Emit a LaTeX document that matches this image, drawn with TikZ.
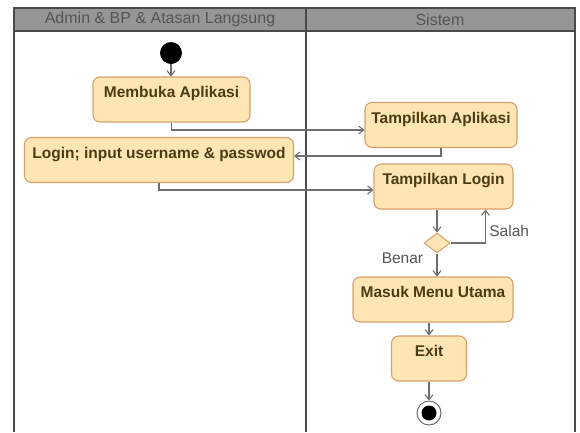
\documentclass[tikz,border=0pt]{standalone}
\usepackage{fontspec}
\setmainfont{Liberation Sans}
\usetikzlibrary{arrows.meta,shapes.geometric}
\definecolor{actfill}{HTML}{FEE6B4}
\definecolor{actline}{HTML}{D6A06C}
\definecolor{acttext}{HTML}{4A3C14}
\definecolor{flowgray}{HTML}{6E6E6E}
\definecolor{headfill}{HTML}{969696}
\definecolor{headtext}{HTML}{555555}
\definecolor{lanegray}{HTML}{4A4A4A}
\begin{document}
\begin{tikzpicture}[x=1pt,y=-1pt,
    activity/.style={draw=actline,fill=actfill,line width=1.1pt,rounded corners=7pt,
      font=\fontsize{15.5}{18}\selectfont\bfseries,text=acttext,
      inner xsep=4pt,inner ysep=9pt,text height=11.5pt,text depth=15.5pt},
    decision/.style={diamond,draw=actline,fill=actfill,line width=1pt,
      minimum width=26pt,minimum height=20pt,inner sep=0pt},
    flow/.style={draw=flowgray,line width=1.1pt,-{Straight Barb[length=5pt,width=8pt]}},
    guard/.style={font=\fontsize{15.5}{18}\selectfont,text=headtext},
    lanehead/.style={font=\fontsize{16}{19}\selectfont,text=headtext},
    lane/.style={draw=lanegray,line width=1.6pt}]
    \useasboundingbox (0,0) rectangle (580,432);
    \fill[headfill] (14,8) rectangle (575,31);
    \draw[lane] (14,432) -- (14,8) -- (575,8) -- (575,432);
    \draw[lane] (14,31) -- (575,31);
    \draw[lane] (306,8) -- (306,432);
    \node[lanehead] (laneuser) at (160,19.5) {Admin \& BP \& Atasan Langsung};
    \node[lanehead] (lanesys) at (440,19.5) {Sistem};

    \node[circle,fill=black,minimum size=22pt,inner sep=0pt] (start) at (171,53) {};
    \node[activity,minimum width=157pt] (buka) at (171.5,99.5) {Membuka Aplikasi};
    \node[activity,minimum width=152pt] (tampilapp) at (441,125) {Tampilkan Aplikasi};
    \node[activity,minimum width=269pt] (login) at (159,160) {Login; input username \& passwod};
    \node[activity,minimum width=139pt] (tampillogin) at (443.5,186.5) {Tampilkan Login};
    \node[decision] (cek) at (437,243) {};
    \node[activity,minimum width=160pt] (menu) at (433,299.5) {Masuk Menu Utama};
    \node[activity,minimum width=75pt] (exit) at (429,358.5) {Exit};
    \node[circle,draw=flowgray,fill=white,line width=1pt,minimum size=24pt,inner sep=0pt] (final) at (429,413) {};
    \node[circle,fill=black,minimum size=15pt,inner sep=0pt] (finaldot) at (final) {};

    \draw[flow] (start.south) -- (start.south |- buka.north);
    \draw[flow] (buka.south) |- ([yshift=-5pt]tampilapp.west);
    \draw[flow] (tampilapp.south) |- ([yshift=4pt]login.east);
    \draw[flow] (login.south) |- ([yshift=-3.5pt]tampillogin.west);
    \draw[flow] (tampillogin.south -| cek.north) -- (cek.north);
    \draw[flow] (cek.east) -| node[guard,pos=0.68,right]{Salah} ([xshift=42pt]tampillogin.south);
    \draw[flow] (cek.south) -- node[guard,pos=0.2,left,xshift=-10pt]{Benar} (cek.south |- menu.north);
    \draw[flow] (menu.south -| exit.north) -- (exit.north);
    \draw[flow] (exit.south) -- (final.north);
\end{tikzpicture}
\end{document}
